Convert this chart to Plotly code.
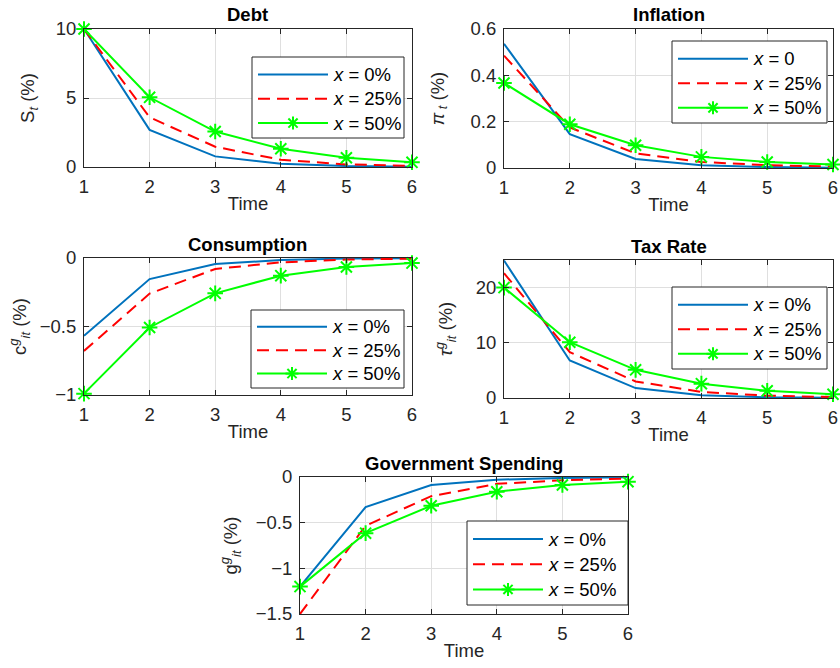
import plotly.graph_objects as go

# ---- data -----------------------------------------------------------------
periods = [1, 2, 3, 4, 5, 6]

debt_x0 = [10, 2.69, 0.77, 0.24, 0.07, 0.02]
debt_x25 = [10, 3.6, 1.47, 0.52, 0.19, 0.08]
debt_x50 = [10, 5.05, 2.57, 1.32, 0.67, 0.34]

infl_x0 = [0.536, 0.146, 0.039, 0.012, 0.004, 0.001]
infl_x25 = [0.485, 0.175, 0.063, 0.026, 0.012, 0.006]
infl_x50 = [0.367, 0.189, 0.098, 0.048, 0.026, 0.015]

cons_x0 = [-0.568, -0.154, -0.044, -0.015, -0.004, -0.001]
cons_x25 = [-0.678, -0.26, -0.08, -0.032, -0.011, -0.005]
cons_x50 = [-0.99, -0.507, -0.258, -0.129, -0.066, -0.037]

tax_x0 = [24.9, 6.8, 1.8, 0.5, 0.13, 0.03]
tax_x25 = [22.6, 8.3, 3.0, 1.1, 0.43, 0.17]
tax_x50 = [20.0, 10.1, 5.1, 2.6, 1.3, 0.67]

gov_x0 = [-1.2, -0.33, -0.088, -0.03, -0.01, -0.003]
gov_x25 = [-1.5, -0.534, -0.21, -0.075, -0.036, -0.018]
gov_x50 = [-1.2, -0.615, -0.315, -0.161, -0.088, -0.051]

labels_pct = ["<i>x</i> = 0%", "<i>x</i> = 25%", "<i>x</i> = 50%"]
labels_infl = ["<i>x</i> = 0", "<i>x</i> = 25%", "<i>x</i> = 50%"]

# ---- page / style ---------------------------------------------------------
W, H = 840, 668
FONT = "Liberation Sans, Arial, Helvetica, sans-serif"
FS = 18.5
INK = "#262626"
GRID = "#dfdfdf"
BLUE = "#0072BD"
RED = "#FF0000"
GREEN = "#00FF00"

STYLES = [
    dict(color=BLUE, dash="solid", marker=False),
    dict(color=RED, dash="12px,7px", marker=False),
    dict(color=GREEN, dash="solid", marker=True),
]

# panel geometry in pixels: (left, top, right, bottom); legend box (left, top, w, h)
panels = [
    dict(title="Debt", ytitle="S<sub><i>t</i></sub> (%)", yrange=[0, 10],
         yticks=[0, 5, 10], series=[debt_x0, debt_x25, debt_x50], labels=labels_pct,
         box=(84, 29, 412, 167), legend=(252, 57, 152, 81), ystandoff=16),
    dict(title="Inflation", ytitle="<i>π</i><sub> <i>t</i></sub> (%)", yrange=[0, 0.6],
         yticks=[0, 0.2, 0.4, 0.6], series=[infl_x0, infl_x25, infl_x50], labels=labels_infl,
         box=(504, 29, 833, 168), legend=(672, 41, 155, 82), ystandoff=21),
    dict(title="Consumption", ytitle="c<sup><i>g</i></sup><sub><i>it</i></sub> (%)", yrange=[-1, 0],
         yticks=[-1, -0.5, 0], series=[cons_x0, cons_x25, cons_x50], labels=labels_pct,
         box=(84, 258, 412, 395), legend=(251, 310, 153, 78), ystandoff=8),
    dict(title="Tax Rate", ytitle="<i>τ</i><sup><i>g</i></sup><sub><i>it</i></sub> (%)", yrange=[0, 25],
         yticks=[0, 10, 20], series=[tax_x0, tax_x25, tax_x50], labels=labels_pct,
         box=(504, 260, 833, 398), legend=(672, 287, 155, 82), ystandoff=18),
    dict(title="Government Spending", ytitle="g<sup><i>g</i></sup><sub><i>it</i></sub> (%)",
         yrange=[-1.5, 0], yticks=[-1.5, -1, -0.5, 0], series=[gov_x0, gov_x25, gov_x50],
         labels=labels_pct, box=(300, 477, 628, 614), legend=(467, 521, 161, 84), ystandoff=13),
]


def px_x(v):
    return v / W


def px_y(v):
    return 1 - v / H


fig = go.Figure()
shapes = []
annotations = []

for i, p in enumerate(panels, start=1):
    xa = "x" if i == 1 else f"x{i}"
    ya = "y" if i == 1 else f"y{i}"
    left, top, right, bottom = p["box"]

    for vals, st, name in zip(p["series"], STYLES, p["labels"]):
        tr = dict(
            x=periods, y=vals, xaxis=xa, yaxis=ya, showlegend=False, name=name,
            line=dict(color=st["color"], width=2, dash=st["dash"]),
            cliponaxis=False,
        )
        if st["marker"]:
            tr["mode"] = "lines+markers"
            tr["marker"] = dict(symbol="asterisk-open", size=13,
                                line=dict(color=st["color"], width=2))
        else:
            tr["mode"] = "lines"
        fig.add_trace(go.Scatter(**tr))

    axis_common = dict(
        showline=True, linecolor=INK, linewidth=1, mirror="ticks",
        ticks="inside", ticklen=5, tickcolor=INK, tickwidth=1,
        showgrid=True, gridcolor=GRID, gridwidth=1, zeroline=False,
        tickfont=dict(family=FONT, size=FS, color=INK),
        automargin=False,
    )
    fig.layout[("xaxis" if i == 1 else f"xaxis{i}")] = dict(
        axis_common, domain=[px_x(left), px_x(right)], anchor=ya,
        range=[1, 6], tickvals=periods, ticklabelstandoff=3,
        title=dict(text="Time", font=dict(family=FONT, size=FS, color=INK), standoff=0),
    )
    fig.layout[("yaxis" if i == 1 else f"yaxis{i}")] = dict(
        axis_common, domain=[px_y(bottom), px_y(top)], anchor=xa,
        range=p["yrange"], tickvals=p["yticks"], ticklabelstandoff=3,
        title=dict(text=p["ytitle"], font=dict(family=FONT, size=FS, color=INK),
                   standoff=p["ystandoff"]),
    )

    # panel title
    annotations.append(dict(
        text=f"<b>{p['title']}</b>", x=0.5, y=1, xref=f"{xa} domain", yref=f"{ya} domain",
        xanchor="center", yanchor="middle", yshift=14, showarrow=False,
        font=dict(family=FONT, size=FS, color="#000000"),
    ))

    # legend box with line samples
    lx, ly, lw, lh = p["legend"]
    shapes.append(dict(type="rect", xref="paper", yref="paper",
                       x0=px_x(lx), x1=px_x(lx + lw), y0=px_y(ly), y1=px_y(ly + lh),
                       line=dict(color=INK, width=1), fillcolor="white", layer="above"))
    for k, (st, name) in enumerate(zip(STYLES, p["labels"])):
        ry = ly + lh * (0.215 + 0.3 * k)
        shapes.append(dict(type="line", xref="paper", yref="paper",
                           x0=px_x(lx + 6), x1=px_x(lx + 76), y0=px_y(ry), y1=px_y(ry),
                           line=dict(color=st["color"], width=2, dash=st["dash"]), layer="above"))
        if st["marker"]:
            cx, r = lx + 41, 6.5
            d = r * 0.7071
            for dx, dy in [(r, 0), (0, r), (d, d), (d, -d)]:
                shapes.append(dict(type="line", xref="paper", yref="paper",
                                   x0=px_x(cx - dx), x1=px_x(cx + dx),
                                   y0=px_y(ry - dy), y1=px_y(ry + dy),
                                   line=dict(color=st["color"], width=2), layer="above"))
        annotations.append(dict(
            text=name, x=px_x(lx + 79), y=px_y(ry), xref="paper", yref="paper",
            xanchor="left", yanchor="middle", showarrow=False,
            font=dict(family=FONT, size=FS, color="#000000"),
        ))

fig.update_layout(
    width=W, height=H, margin=dict(l=0, r=0, t=0, b=0),
    paper_bgcolor="white", plot_bgcolor="white",
    shapes=shapes, annotations=annotations, showlegend=False,
    font=dict(family=FONT, size=FS, color=INK),
)

fig.write_html("out.html")
